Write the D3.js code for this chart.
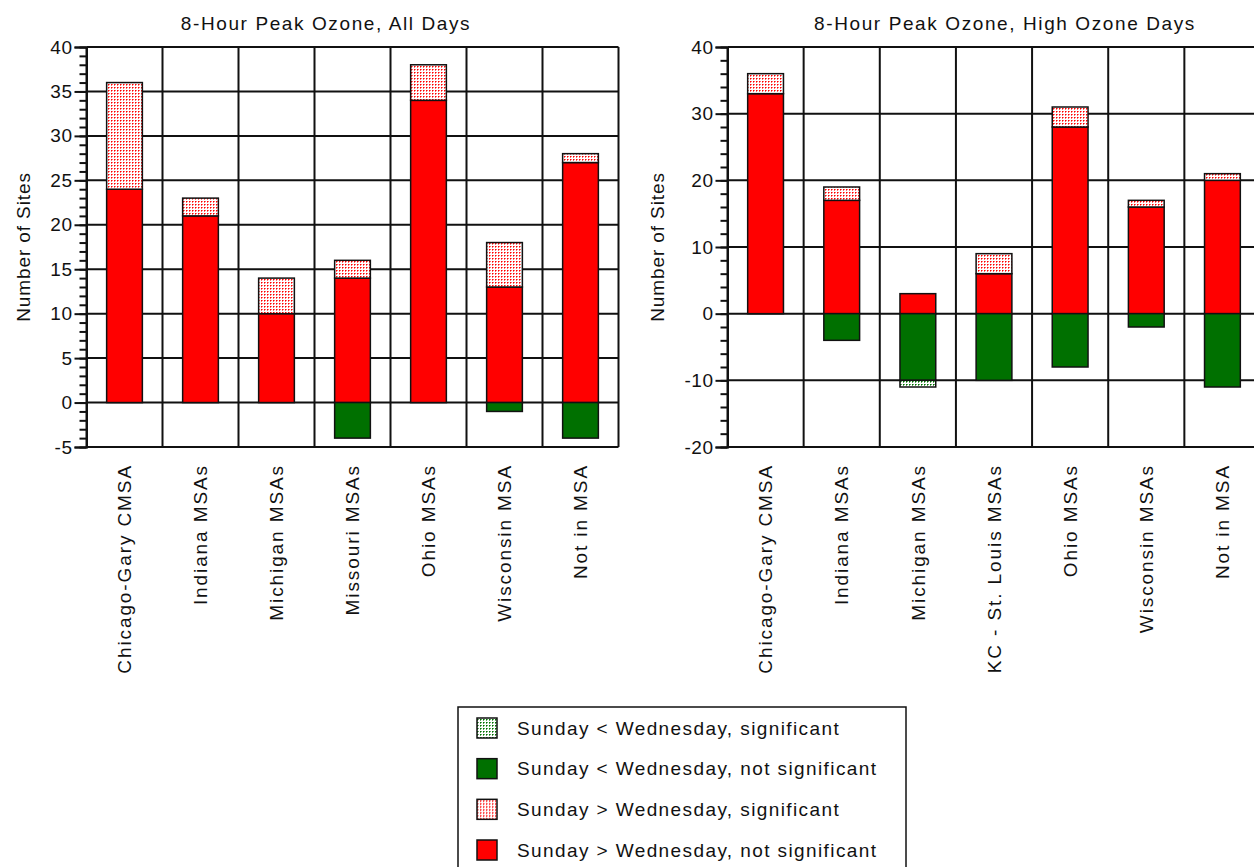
<!DOCTYPE html>
<html>
<head>
<meta charset="utf-8">
<script src="https://cdn.jsdelivr.net/npm/d3@7"></script>
<style>
  html, body { margin: 0; padding: 0; background: #fff; }
  svg { display: block; }
  text { font-family: "Liberation Sans", Arial, sans-serif; fill: #111; }
</style>
</head>
<body>
<svg id="chart" width="1254" height="867"></svg>
<script>
// ---------- Data ----------
const leftTitle = "8-Hour Peak Ozone, All Days";
const leftCategories = ["Chicago-Gary CMSA", "Indiana MSAs", "Michigan MSAs", "Missouri MSAs", "Ohio MSAs", "Wisconsin MSA", "Not in MSA"];
const leftSunGtNotSig = [24, 21, 10, 14, 34, 13, 27];
const leftSunGtSig    = [12, 2, 4, 2, 4, 5, 1];
const leftSunLtNotSig = [0, 0, 0, 4, 0, 1, 4];
const leftSunLtSig    = [0, 0, 0, 0, 0, 0, 0];
const leftTicks = [40, 35, 30, 25, 20, 15, 10, 5, 0, -5];

const rightTitle = "8-Hour Peak Ozone, High Ozone Days";
const rightCategories = ["Chicago-Gary CMSA", "Indiana MSAs", "Michigan MSAs", "KC - St. Louis MSAs", "Ohio MSAs", "Wisconsin MSAs", "Not in MSA"];
const rightSunGtNotSig = [33, 17, 3, 6, 28, 16, 20];
const rightSunGtSig    = [3, 2, 0, 3, 3, 1, 1];
const rightSunLtNotSig = [0, 4, 10, 10, 8, 2, 11];
const rightSunLtSig    = [0, 0, 1, 0, 0, 0, 0];
const rightTicks = [40, 30, 20, 10, 0, -10, -20];

const yAxisTitle = "Number of Sites";
const legendLabels = [
  "Sunday < Wednesday, significant",
  "Sunday < Wednesday, not significant",
  "Sunday > Wednesday, significant",
  "Sunday > Wednesday, not significant"
];
const legendKeys = ["ltSig", "ltNotSig", "gtSig", "gtNotSig"];

// ---------- Styles ----------
const RED = "#ff0000", GREEN = "#007000";
const svg = d3.select("#chart");
const defs = svg.append("defs");
function makePattern(id, color, light) {
  const p = defs.append("pattern").attr("id", id).attr("patternUnits", "userSpaceOnUse")
    .attr("width", 3).attr("height", 3);
  p.append("rect").attr("width", 3).attr("height", 3).attr("fill", "#fff");
  p.append("rect").attr("x", 0).attr("y", 0).attr("width", 1).attr("height", 1).attr("fill", color);
  p.append("rect").attr("x", 1).attr("y", 0).attr("width", 1).attr("height", 1).attr("fill", light);
  p.append("rect").attr("x", 0).attr("y", 1).attr("width", 1).attr("height", 1).attr("fill", light);
}
makePattern("redDots", RED, "#ff7070");
makePattern("greenDots", GREEN, "#60a860");
const fills = { gtNotSig: RED, gtSig: "url(#redDots)", ltNotSig: GREEN, ltSig: "url(#greenDots)" };

// ---------- Panel ----------
function drawPanel(cfg) {
  const g = svg.append("g");
  const y = d3.scaleLinear().domain(cfg.domain).range([cfg.bottom, cfg.top]);
  const xGrid = d3.scaleBand().domain(cfg.categories).range([cfg.left, cfg.right]).padding(0);
  const x = d3.scaleBand().domain(cfg.categories).range([cfg.left, cfg.right])
    .paddingInner(0.53).paddingOuter(0.265);

  // horizontal grid lines at major ticks
  g.selectAll(".hgrid").data(cfg.ticks).join("line")
    .attr("x1", cfg.left).attr("x2", cfg.right)
    .attr("y1", d => y(d)).attr("y2", d => y(d))
    .attr("stroke", "#111").attr("stroke-width", 2);
  // vertical grid lines (category boundaries)
  const bounds = cfg.categories.map(c => xGrid(c)).concat([cfg.right]);
  g.selectAll(".vgrid").data(bounds).join("line")
    .attr("x1", d => d).attr("x2", d => d)
    .attr("y1", cfg.top).attr("y2", cfg.bottom)
    .attr("stroke", "#111").attr("stroke-width", 2);

  // bars
  const segs = [];
  cfg.categories.forEach((c, i) => {
    const a = cfg.gtNotSig[i], b = cfg.gtSig[i], n = cfg.ltNotSig[i], m = cfg.ltSig[i];
    if (a) segs.push({ c, y0: 0, y1: a, key: "gtNotSig" });
    if (b) segs.push({ c, y0: a, y1: a + b, key: "gtSig" });
    if (n) segs.push({ c, y0: 0, y1: -n, key: "ltNotSig" });
    if (m) segs.push({ c, y0: -n, y1: -n - m, key: "ltSig" });
  });
  g.selectAll(".bar").data(segs).join("rect")
    .attr("x", d => x(d.c))
    .attr("width", x.bandwidth())
    .attr("y", d => y(Math.max(d.y0, d.y1)))
    .attr("height", d => Math.abs(y(d.y0) - y(d.y1)))
    .attr("fill", d => fills[d.key])
    .attr("stroke", "#111").attr("stroke-width", 1.5);

  // y axis with minor ticks
  const axisG = g.append("g").attr("transform", `translate(${cfg.left},0)`);
  const minor = d3.range(cfg.domain[0], cfg.domain[1] + 0.001, cfg.minorStep);
  axisG.call(d3.axisLeft(y).tickValues(minor).tickSize(7).tickFormat(""));
  axisG.call(g2 => g2.select(".domain").remove());
  axisG.selectAll("line").attr("stroke", "#111").attr("stroke-width", 2);
  const majorG = g.append("g").attr("transform", `translate(${cfg.left},0)`);
  majorG.call(d3.axisLeft(y).tickValues(cfg.ticks).tickSize(12).tickPadding(2).tickFormat(d => String(d)));
  majorG.select(".domain").attr("stroke", "#111").attr("stroke-width", 2);
  majorG.selectAll("line").attr("stroke", "#111").attr("stroke-width", 2);
  majorG.selectAll("text")
    .style("font-family", "'Liberation Sans', Arial, sans-serif")
    .style("font-size", "19px").style("letter-spacing", "0.5px").attr("fill", "#111");

  // category labels
  g.selectAll(".cat").data(cfg.categories).join("text")
    .attr("transform", d => `translate(${x(d) + x.bandwidth() / 2},${cfg.bottom + 17}) rotate(-90)`)
    .attr("text-anchor", "end").attr("dy", "0.35em")
    .style("font-size", "19px").style("letter-spacing", "1.9px")
    .text(d => d);

  // title
  g.append("text").attr("x", cfg.titleX).attr("y", 30).attr("text-anchor", "middle")
    .style("font-size", "19px").style("letter-spacing", "1.6px").text(cfg.title);

  // y axis title
  g.append("text")
    .attr("transform", `translate(${cfg.yTitleX},${(cfg.top + cfg.bottom) / 2}) rotate(-90)`)
    .attr("text-anchor", "middle").attr("dy", "0.35em")
    .style("font-size", "19px").style("letter-spacing", "0.9px").text(yAxisTitle);
}

drawPanel({
  title: leftTitle, titleX: 326, yTitleX: 23,
  categories: leftCategories, gtNotSig: leftSunGtNotSig, gtSig: leftSunGtSig,
  ltNotSig: leftSunLtNotSig, ltSig: leftSunLtSig,
  domain: [-5, 40], ticks: leftTicks, minorStep: 1,
  left: 86.5, right: 618.5, top: 47, bottom: 447
});
drawPanel({
  title: rightTitle, titleX: 1005, yTitleX: 657,
  categories: rightCategories, gtNotSig: rightSunGtNotSig, gtSig: rightSunGtSig,
  ltNotSig: rightSunLtNotSig, ltSig: rightSunLtSig,
  domain: [-20, 40], ticks: rightTicks, minorStep: 2,
  left: 727.5, right: 1260.5, top: 47, bottom: 447
});

// ---------- Legend ----------
const lg = svg.append("g");
lg.append("rect").attr("x", 458).attr("y", 707).attr("width", 448).attr("height", 190)
  .attr("fill", "#fff").attr("stroke", "#111").attr("stroke-width", 1.5);
const rowY = d3.scalePoint().domain(legendKeys).range([728, 850]);
const items = lg.selectAll(".item").data(legendKeys).join("g")
  .attr("transform", d => `translate(0,${rowY(d)})`);
items.append("rect").attr("x", 477).attr("y", -10).attr("width", 20).attr("height", 20)
  .attr("fill", d => fills[d]).attr("stroke", "#111").attr("stroke-width", 1.5);
items.append("text").attr("x", 517).attr("dy", "0.35em")
  .style("font-size", "19px").style("letter-spacing", "1.4px")
  .text((d, i) => legendLabels[i]);
</script>
</body>
</html>
